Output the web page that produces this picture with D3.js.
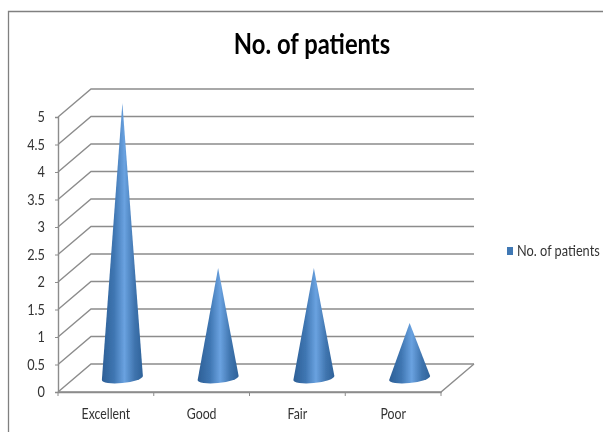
<!DOCTYPE html>
<html>
<head>
<meta charset="utf-8">
<script src="https://cdn.jsdelivr.net/npm/d3@7/dist/d3.min.js"></script>
<style>
  html, body { margin: 0; padding: 0; background: #fff; }
  svg { display: block; }
  text { font-family: Lato, "Open Sans", sans-serif; }
</style>
</head>
<body>
<div id="viz"></div>
<script>
// datos
var categorias = ['Excellent', 'Good', 'Fair', 'Poor'];
var pacientes = [5, 2, 2, 1];
var ticksY = [0, 0.5, 1, 1.5, 2, 2.5, 3, 3.5, 4, 4.5, 5];
var nombreSerie = 'No. of patients';

var width = 603, height = 432;

var svg = d3.select('#viz').append('svg')
  .attr('width', width)
  .attr('height', height);
var defs = svg.append('defs');

// degradado horizontal del cono
var grad = defs.append('linearGradient').attr('id', 'cono');
[[0, '#2d5f96'], [0.3, '#3f76b2'], [0.55, '#6aa2e0'], [0.8, '#3f74ae'], [1, '#2f6299']].forEach(function (s) {
  grad.append('stop').attr('offset', s[0]).attr('stop-color', s[1]);
});

// el original esta algo borroso
defs.append('filter').attr('id', 'suave')
  .append('feGaussianBlur').attr('stdDeviation', 0.35);

var raiz = svg.append('g').attr('filter', 'url(#suave)');

// la letra original es mas angosta que Lato: comprimo el texto a lo ancho
function angostar(seleccion, factor) {
  seleccion.each(function () {
    d3.select(this)
      .attr('textLength', this.getComputedTextLength() * factor)
      .attr('lengthAdjust', 'spacingAndGlyphs');
  });
}

// marco
raiz.append('path')
  .attr('d', 'M8.5,432V11.5H603')
  .attr('fill', 'none')
  .attr('stroke', '#808080')
  .attr('stroke-width', 1.3);

// escalas: eje frontal y profundidad 3D
var fondoX = 33, fondoY = -28;
var x = d3.scaleBand().domain(categorias).range([58, 441]);
var y = d3.scaleLinear().domain([0, 5]).range([392, 117]);

// paredes: lineas de grilla
var gGrilla = raiz.append('g')
  .attr('fill', 'none')
  .attr('stroke', '#8c8c8c')
  .attr('stroke-width', 1.4);

ticksY.forEach(function (t) {
  gGrilla.append('polyline')
    .attr('points', [
      [x.range()[0], y(t)],
      [x.range()[0] + fondoX, y(t) + fondoY],
      [x.range()[1] + fondoX, y(t) + fondoY]
    ].join(' '));
});

// piso
gGrilla.append('polyline')
  .attr('points', [
    [x.range()[0], y(0)],
    [x.range()[1], y(0)],
    [x.range()[1] + fondoX, y(0) + fondoY]
  ].join(' '));

// ejes
var ejeY = raiz.append('g')
  .attr('transform', 'translate(' + x.range()[0] + ',0)')
  .call(d3.axisLeft(y).tickValues(ticksY).tickSize(3).tickPadding(10).tickFormat(d3.format('~g')));
var ejeX = raiz.append('g')
  .attr('transform', 'translate(0,' + y(0) + ')')
  .call(d3.axisBottom(x).tickSize(0).tickPadding(16));

// marcas del eje x en los limites de cada categoria
var divisiones = categorias.map(function (c) { return x(c); }).concat([x.range()[1]]);
ejeX.selectAll('line.division').data(divisiones).enter().append('line')
  .attr('class', 'division')
  .attr('x1', function (d) { return d; })
  .attr('x2', function (d) { return d; })
  .attr('y1', 0)
  .attr('y2', 4)
  .attr('stroke', '#8c8c8c');

[ejeY, ejeX].forEach(function (eje) {
  eje.selectAll('.domain').attr('stroke', '#8c8c8c').attr('stroke-width', 1.4);
  eje.selectAll('.tick line').attr('stroke', '#8c8c8c');
  eje.selectAll('text').attr('fill', '#333').style('font-size', '15px');
});
angostar(ejeY.selectAll('text'), 0.85);
angostar(ejeX.selectAll('text'), 0.82);

// conos, centrados a media profundidad; la base va un poco inclinada
var radioX = 20.5, radioY = 5, caida = 2;
var medioX = fondoX / 2, medioY = fondoY / 2;

raiz.append('g').selectAll('path')
  .data(pacientes)
  .enter().append('path')
  .attr('fill', 'url(#cono)')
  .attr('d', function (d, i) {
    var cx = x(categorias[i]) + x.bandwidth() / 2 + medioX;
    var base = y(0) + medioY;
    var punta = y(d) + medioY;
    return 'M' + (cx - radioX) + ',' + (base + caida) +
      'L' + cx + ',' + punta +
      'L' + (cx + radioX) + ',' + (base - caida) +
      'A' + radioX + ',' + radioY + ' -6 0 1 ' + (cx - radioX) + ',' + (base + caida) + 'Z';
  });

// titulo
raiz.append('text')
  .attr('x', 312)
  .attr('y', 54)
  .attr('text-anchor', 'middle')
  .attr('font-size', 28)
  .attr('font-weight', 'bold')
  .attr('fill', '#000')
  .text(nombreSerie)
  .call(angostar, 0.85);

// leyenda
raiz.append('rect')
  .attr('x', 507).attr('y', 247)
  .attr('width', 6).attr('height', 8)
  .attr('fill', '#4178b4');
raiz.append('text')
  .attr('x', 517).attr('y', 256)
  .attr('font-size', 15)
  .attr('fill', '#333')
  .text(nombreSerie)
  .call(angostar, 0.85);
</script>
</body>
</html>
